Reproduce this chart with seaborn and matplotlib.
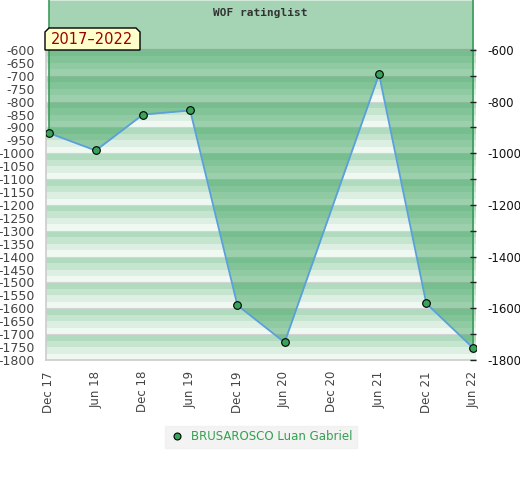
import numpy as np
import pandas as pd
import matplotlib
matplotlib.use("Agg")
import matplotlib.pyplot as plt
from matplotlib.patches import Polygon
from matplotlib.lines import Line2D
import seaborn as sns

# ---- data ----
tick_labels = ["Dec 17", "Jun 18", "Dec 18", "Jun 19", "Dec 19",
               "Jun 20", "Dec 20", "Jun 21", "Dec 21", "Jun 22"]
point_labels = ["Dec 17", "Jun 18", "Dec 18", "Jun 19", "Dec 19",
                "Jun 20", "Jun 21", "Dec 21", "Jun 22"]
point_values = [-921, -989, -850, -834, -1588, -1732, -694, -1581, -1755]
series_name = "BRUSAROSCO Luan Gabriel"
title = "WOF ratinglist"
period = "2017\u20132022"

df = pd.DataFrame({"label": point_labels, "value": point_values})
df["x"] = [tick_labels.index(l) for l in point_labels]

sns.set_theme(style="white")
plt.rcParams["font.family"] = ["DejaVu Sans"]

W, H = 520, 480
fig = plt.figure(figsize=(W / 100, H / 100), dpi=100)

def fx(px):
    return px / W

def fy(py):
    return 1 - py / H

ax_left, ax_right, ax_top, ax_bot = 46, 476, 0, 360
ax = fig.add_axes([fx(ax_left), fy(ax_bot), fx(ax_right - ax_left), (ax_bot - ax_top) / H])
ax.set_facecolor("none")

ymin, ymax = -1800, -600
px_per_unit = (360 - 50) / (ymax - ymin)
ytop = ymax + 50 / px_per_unit
ax.set_ylim(ymin, ytop)
xpad = 2.5 / 47
ax.set_xlim(-xpad, len(tick_labels) - 1 + xpad)

# striped background
stripe_cols = ["#b1dbbf", "#c5e5cf", "#dcefe2", "#f0f8f2"]
for base in np.arange(ymax, ymin, -100):
    for i, c in enumerate(stripe_cols):
        top = base - i * 25
        ax.axhspan(top - 25, top, color=c, lw=0, zorder=0)
for g in np.arange(ymax - 100, ymin - 1, -100):
    ax.axhline(g, color="#d4d4d4", lw=0.8, zorder=0.5)
ax.axhline(ymax, color="#cccccc", lw=1.6, zorder=0.6)

# fill area above the line
ax.fill_between(df["x"], df["value"], ytop, color="#1e9446", alpha=0.4,
                lw=0, zorder=1)
for xi, yi in [(df["x"].iloc[0], df["value"].iloc[0]), (df["x"].iloc[-1], df["value"].iloc[-1])]:
    ax.plot([xi, xi], [yi, ytop], color="#3c9c5c", lw=1.2, zorder=1.5)

sns.lineplot(data=df, x="x", y="value", sort=False, ax=ax, color="#5aa0dc",
             lw=1.3, marker="o", markersize=5.5, markerfacecolor="#3aa35a",
             markeredgecolor="black", markeredgewidth=0.8, zorder=3)

# axes styling
for s in ["top", "right"]:
    ax.spines[s].set_visible(False)
ax.spines["left"].set_bounds(ymin, ymax)
ax.spines["left"].set_color("#cccccc")
ax.spines["bottom"].set_color("#cccccc")
ax.spines["left"].set_linewidth(1.2)
ax.spines["bottom"].set_linewidth(1.2)

ax.set_yticks(np.arange(ymin, ymax + 1, 50))
ax.set_yticklabels([str(int(v)) for v in np.arange(ymin, ymax + 1, 50)])
ax.tick_params(axis="y", length=0, pad=8, labelsize=9, labelcolor="#444444")
ax.set_xticks(range(len(tick_labels)))
ax.set_xticklabels(tick_labels, rotation=90)
ax.tick_params(axis="x", length=0, pad=8, labelsize=8.5, labelcolor="#444444")
ax.set_xlabel("")
ax.set_ylabel("")

ax2 = ax.twinx()
ax2.set_ylim(ax.get_ylim())
for s in ax2.spines.values():
    s.set_visible(False)
ax2.set_yticks(np.arange(ymin, ymax + 1, 200))
ax2.set_yticklabels([str(int(v)) for v in np.arange(ymin, ymax + 1, 200)])
ax2.set_yticks(np.arange(ymin + 100, ymax, 200), minor=True)
ax2.tick_params(axis="y", which="both", direction="in", length=4, width=1,
                color="#222222", pad=8, labelsize=8.5, labelcolor="#111111")
ax2.set_ylabel("")

# title in the top band
fig.text(fx(260), fy(13), title, ha="center", va="center",
         family="DejaVu Sans Mono", weight="bold", fontsize=8, color="#333333")

# period label box with chamfered top corners
bx0, bx1, by0, by1, ch = 45, 140, 28, 50, 4
pts = [(bx0, by1), (bx0, by0 + ch), (bx0 + ch, by0), (bx1 - ch, by0),
       (bx1, by0 + ch), (bx1, by1)]
poly = Polygon([(fx(a), fy(b)) for a, b in pts], closed=True,
               transform=fig.transFigure, facecolor="#ffffcc",
               edgecolor="black", lw=1, zorder=10)
fig.patches.append(poly)
fig.text(fx(92.5), fy(40), period, ha="center", va="center", fontsize=10.5,
         color="#990000", zorder=11)

# legend
handle = Line2D([], [], ls="none", marker="o", markersize=5,
                markerfacecolor="#3aa35a", markeredgecolor="black",
                markeredgewidth=0.8)
leg = fig.legend([handle], [series_name], loc="center",
                 bbox_to_anchor=(fx(261), fy(437)), frameon=True,
                 fontsize=8.5, handlelength=1.2, handletextpad=0.6,
                 borderpad=0.35, fancybox=False)
leg.get_frame().set_facecolor("#f0f0f0")
leg.get_frame().set_edgecolor("#f0f0f0")
for t in leg.get_texts():
    t.set_color("#33a04f")

fig.savefig("out.png", dpi=100)
